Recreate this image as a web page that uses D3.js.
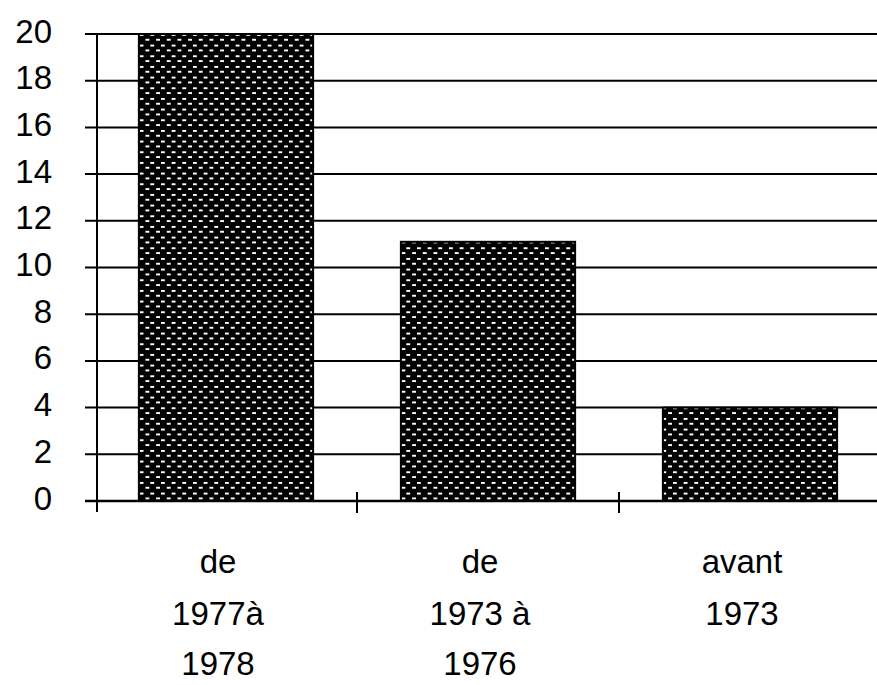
<!DOCTYPE html>
<html>
<head>
<meta charset="utf-8">
<script src="https://cdn.jsdelivr.net/npm/d3@7"></script>
<style>
  html, body { margin: 0; padding: 0; background: #fff; }
  svg { display: block; }
  text { font-family: "Liberation Sans", Arial, sans-serif; fill: #000; }
</style>
</head>
<body>
<script>
// Bar chart: counts by period
const categories = ["de 1977à 1978", "de 1973 à 1976", "avant 1973"];
const categoryLines = [["de", "1977à", "1978"], ["de", "1973 à", "1976"], ["avant", "1973"]];
const values = [20, 11.1, 4];
const yTicks = [0, 2, 4, 6, 8, 10, 12, 14, 16, 18, 20];

const W = 877, H = 685;
const svg = d3.select("body").append("svg").attr("width", W).attr("height", H);

// dotted-dash fill used for the bars
const defs = svg.append("defs");
const s = 32 / 3;
const pat = defs.append("pattern")
  .attr("id", "dash")
  .attr("patternUnits", "userSpaceOnUse")
  .attr("width", s).attr("height", s);
pat.append("rect").attr("width", s).attr("height", s).attr("fill", "#000");
pat.append("rect").attr("x", 1).attr("y", 1.5).attr("width", 4).attr("height", 2)
  .attr("fill", "#fff").attr("shape-rendering", "crispEdges");
pat.append("rect").attr("x", 1 + s / 2).attr("y", 1.5 + s / 2).attr("width", 4).attr("height", 2)
  .attr("fill", "#fff").attr("shape-rendering", "crispEdges");

const x = d3.scaleBand().domain(categories).range([95, 95 + 3 * 262]).paddingInner(0.335).paddingOuter(0.1675);
const y = d3.scaleLinear().domain([0, 20]).range([501, 34]);

// horizontal gridlines
svg.append("g").selectAll("line").data(yTicks).join("line")
  .attr("x1", 85).attr("x2", W + 10)
  .attr("y1", d => y(d)).attr("y2", d => y(d))
  .attr("stroke", "#000").attr("stroke-width", 2);

// bars
svg.append("g").selectAll("rect").data(values).join("rect")
  .attr("x", (d, i) => x(categories[i]))
  .attr("width", x.bandwidth())
  .attr("y", d => y(d))
  .attr("height", d => y(0) - y(d))
  .attr("fill", "url(#dash)")
  .attr("stroke", "#000").attr("stroke-width", 2);

// y axis line
svg.append("line")
  .attr("x1", 97).attr("x2", 97).attr("y1", y(20)).attr("y2", 512)
  .attr("stroke", "#000").attr("stroke-width", 2);

// x axis line
svg.append("line")
  .attr("x1", 85).attr("x2", W + 10).attr("y1", y(0)).attr("y2", y(0))
  .attr("stroke", "#000").attr("stroke-width", 2.5);

// category boundary ticks
const bounds = categories.slice(1).map(c => x(c) - x.step() * x.paddingInner() / 2);
svg.append("g").selectAll("line").data(bounds).join("line")
  .attr("x1", d => d).attr("x2", d => d)
  .attr("y1", 492).attr("y2", 513)
  .attr("stroke", "#000").attr("stroke-width", 2);

// y tick labels
svg.append("g").selectAll("text").data(yTicks).join("text")
  .attr("x", 52)
  .attr("y", d => y(d) - 3)
  .attr("text-anchor", "end")
  .attr("dominant-baseline", "central")
  .attr("font-size", 33)
  .text(d => d);

// category labels, one line per tspan
const baselines = [573, 625, 675];
const lab = svg.append("g").selectAll("text").data(categoryLines).join("text")
  .attr("font-size", 33)
  .attr("text-anchor", "middle");
lab.each(function (lines, i) {
  const cx = x(categories[i]) + x.bandwidth() / 2 - 8;
  d3.select(this).selectAll("tspan").data(lines).join("tspan")
    .attr("x", cx)
    .attr("y", (d, j) => baselines[j])
    .text(d => d);
});
</script>
</body>
</html>
